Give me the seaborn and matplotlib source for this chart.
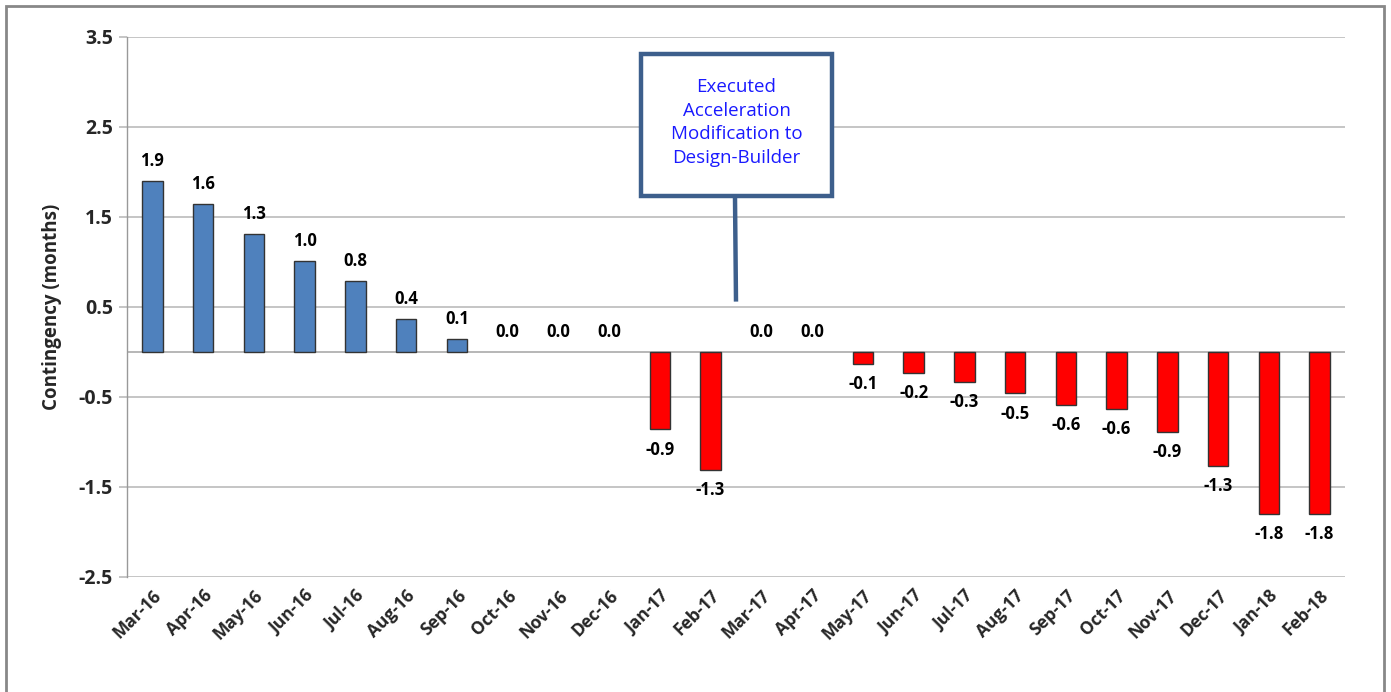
import matplotlib
matplotlib.use("Agg")
import matplotlib.pyplot as plt
import seaborn as sns
import pandas as pd
from matplotlib.patches import Rectangle

months = ["Mar-16", "Apr-16", "May-16", "Jun-16", "Jul-16", "Aug-16", "Sep-16",
          "Oct-16", "Nov-16", "Dec-16", "Jan-17", "Feb-17", "Mar-17", "Apr-17",
          "May-17", "Jun-17", "Jul-17", "Aug-17", "Sep-17", "Oct-17", "Nov-17",
          "Dec-17", "Jan-18", "Feb-18"]
contingency = [1.90, 1.64, 1.31, 1.01, 0.79, 0.37, 0.14,
               0.0, 0.0, 0.0, -0.86, -1.31, 0.0, 0.0,
               -0.13, -0.23, -0.33, -0.46, -0.59, -0.63, -0.89,
               -1.27, -1.80, -1.80]
y_ticks = [3.5, 2.5, 1.5, 0.5, -0.5, -1.5, -2.5]
annotation_text = "Executed\nAcceleration\nModification to\nDesign-Builder"

df = pd.DataFrame({"month": months, "value": contingency})
df["sign"] = ["neg" if v < 0 else "pos" for v in df["value"]]

sns.set_theme(style="white")
plt.rcParams["font.family"] = ["Open Sans", "DejaVu Sans"]

fig = plt.figure(figsize=(13.91, 6.92), dpi=100)
ax = fig.add_axes([127 / 1391, 1 - 577 / 692, (1345 - 127) / 1391, (577 - 37) / 692])

sns.barplot(data=df, x="month", y="value", hue="sign",
            palette={"pos": "#4F81BD", "neg": "#FF0000"}, dodge=False, saturation=1,
            width=0.4, edgecolor="#333333", linewidth=1.0, legend=False, ax=ax)
for p in ax.patches:
    if abs(p.get_height()) < 1e-9:
        p.set_linewidth(0)

ax.set_xlim(-0.5, len(months) - 0.5)
ax.set_ylim(-2.5, 3.5)
ax.set_yticks(y_ticks)
ax.set_yticklabels([f"{t:.1f}" for t in y_ticks], fontsize=14, fontweight="bold")
for t in y_ticks:
    ax.axhline(t, color="#BBBBBB", linewidth=1.2, zorder=0)
ax.axhline(0, color="#AAAAAA", linewidth=1.2, zorder=0.5)

for s in ["top", "right", "bottom"]:
    ax.spines[s].set_visible(False)
ax.spines["left"].set_color("#999999")
ax.spines["left"].set_linewidth(1.0)
ax.tick_params(axis="y", which="major", length=6, color="#BBBBBB", width=1.2,
               pad=4, left=True)
ax.tick_params(axis="x", length=0, pad=7)

ax.set_xticks(range(len(months)))
ax.set_xticklabels(months, rotation=45, ha="right", rotation_mode="anchor",
                   fontsize=12.5, fontweight="bold")
ax.set_xlabel("")
ax.set_ylabel("Contingency (months)", fontsize=13.5, fontweight="bold", labelpad=12)

for i, v in enumerate(contingency):
    if v >= 0:
        ax.annotate(f"{v:.1f}", (i, v), xytext=(0, 8), textcoords="offset points",
                    ha="center", va="bottom", fontsize=12, fontweight="bold", color="black")
    else:
        ax.annotate(f"{v:.1f}", (i, v), xytext=(0, -8), textcoords="offset points",
                    ha="center", va="top", fontsize=12, fontweight="bold", color="black")

# annotation callout
box_x0, box_x1 = 9.63, 13.39
box_y0, box_y1 = 1.73, 3.31
ax.add_patch(Rectangle((box_x0, box_y0), box_x1 - box_x0, box_y1 - box_y0,
                       facecolor="white", edgecolor="#3D5F8C", linewidth=3.2, zorder=5))
ax.plot([11.48, 11.5], [box_y0, 0.56], color="#3D5F8C", linewidth=3.2, zorder=5,
        solid_capstyle="butt")
ax.text((box_x0 + box_x1) / 2, (box_y0 + box_y1) / 2 + 0.03, annotation_text,
        ha="center", va="center", fontsize=13.5, color="#1A1AFF", linespacing=1.42, zorder=6)

# outer figure border
fig.patches.append(Rectangle((6 / 1391, -0.02), (1384 - 6) / 1391, 1.02 - 6 / 692,
                             transform=fig.transFigure, fill=False,
                             edgecolor="#888888", linewidth=2.0))

fig.savefig("out.png", dpi=100)
